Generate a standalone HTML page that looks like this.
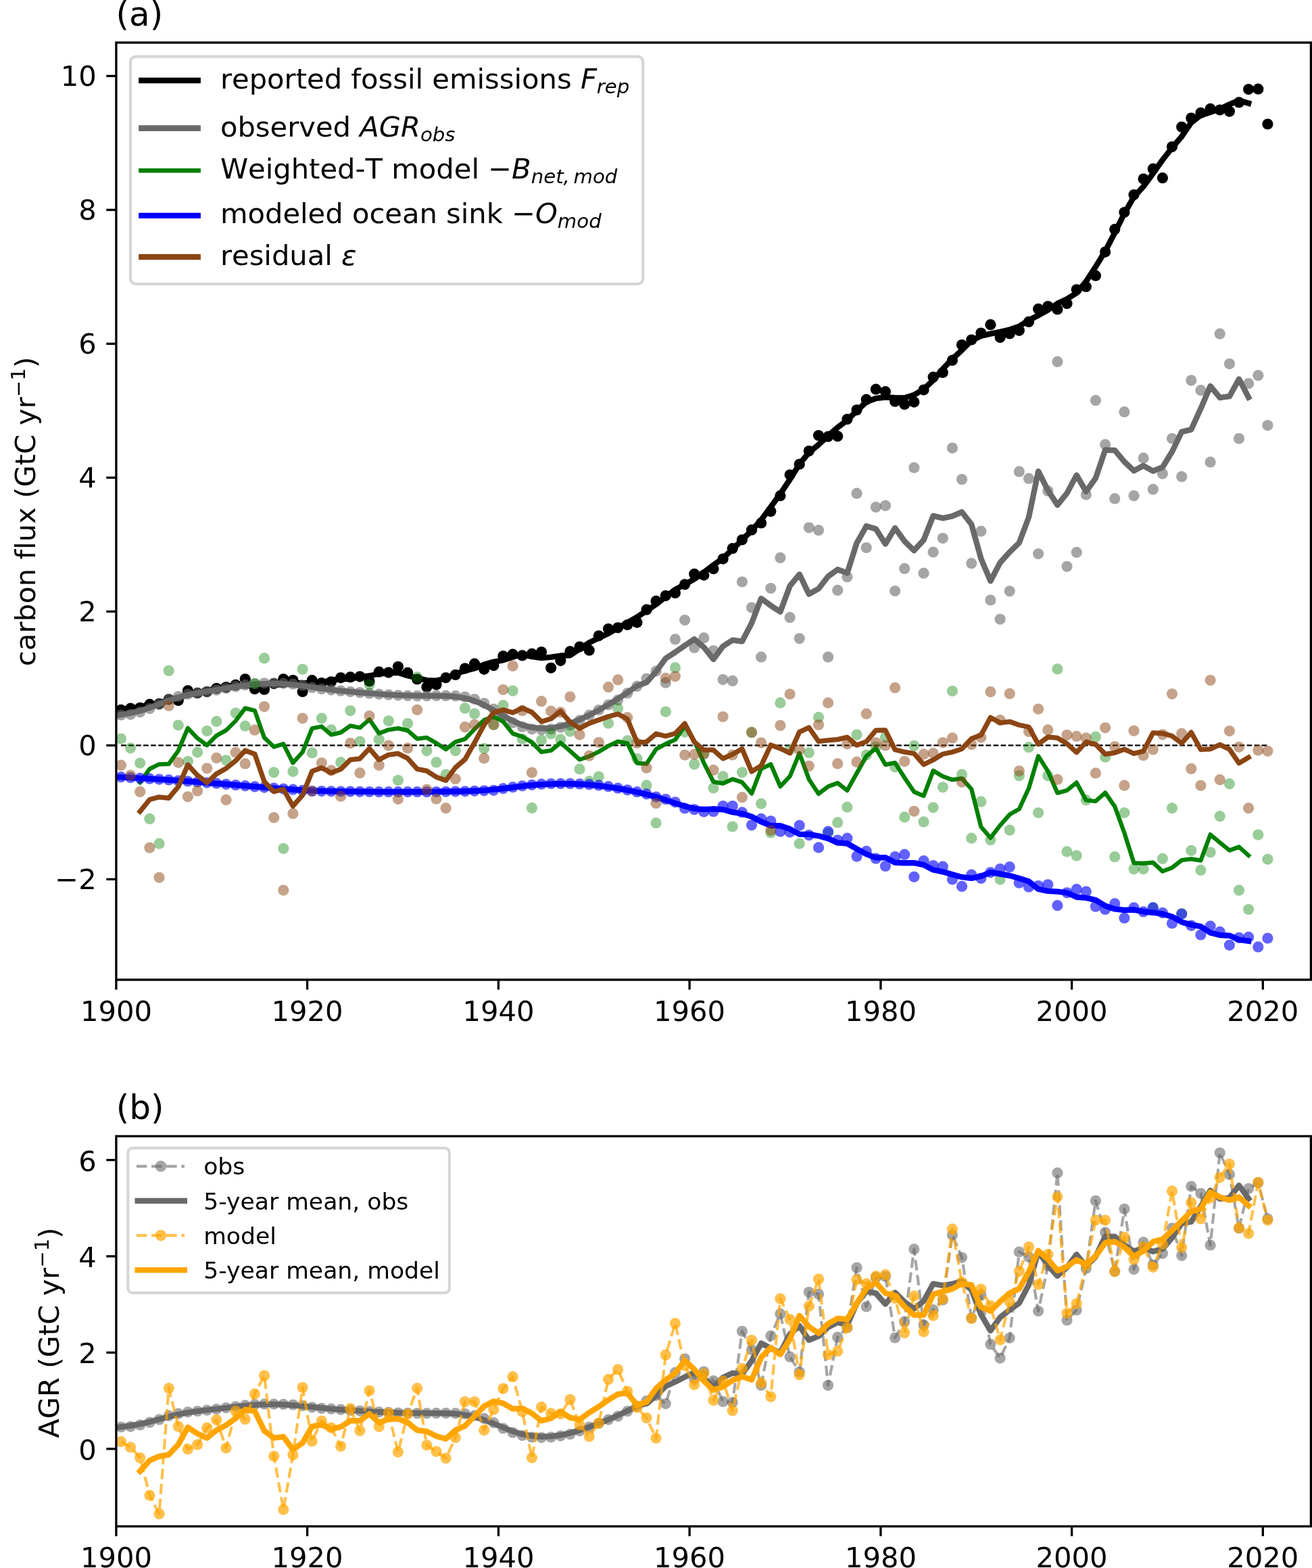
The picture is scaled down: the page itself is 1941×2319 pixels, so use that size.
<!DOCTYPE html>
<html><head><meta charset="utf-8"><title>Carbon flux figure</title>
<style>
html,body{margin:0;padding:0;background:#fff;}
svg{display:block;}
text{font-family:'DejaVu Sans','Liberation Sans',sans-serif;fill:#000;font-variant-ligatures:none;font-feature-settings:'liga' 0,'clig' 0;}
.tk{font-size:41.67px;}
.lg{font-size:41.67px;font-kerning:none;}
.lb{font-size:34.6px;}
.ti{font-size:50px;}
.it{font-style:italic;}
.nk{font-kerning:none;}
</style></head><body>
<svg width="1941" height="2319" viewBox="0 0 1941 2319">
<rect width="1941" height="2319" fill="#fff"/>
<defs>
<clipPath id="ca"><rect x="171.9" y="63.0" width="1767.5" height="1386.0"/></clipPath>
<clipPath id="cb"><rect x="171.9" y="1680.4" width="1767.5" height="577.0"/></clipPath>
</defs>

<g clip-path="url(#ca)">
<line x1="179.0" y1="1102.4" x2="1875.4" y2="1102.4" stroke="#000" stroke-width="2.1" stroke-dasharray="7.7,3.33"/>
<g fill="#000" fill-opacity="1"><circle cx="179.0" cy="1049.9" r="8.1"/><circle cx="193.1" cy="1047.7" r="8.1"/><circle cx="207.2" cy="1046.8" r="8.1"/><circle cx="221.4" cy="1041.7" r="8.1"/><circle cx="235.5" cy="1040.8" r="8.1"/><circle cx="249.7" cy="1034.3" r="8.1"/><circle cx="263.8" cy="1036.0" r="8.1"/><circle cx="277.9" cy="1021.4" r="8.1"/><circle cx="292.1" cy="1024.9" r="8.1"/><circle cx="306.2" cy="1023.1" r="8.1"/><circle cx="320.3" cy="1018.0" r="8.1"/><circle cx="334.5" cy="1016.3" r="8.1"/><circle cx="348.6" cy="1012.9" r="8.1"/><circle cx="362.7" cy="1004.3" r="8.1"/><circle cx="376.9" cy="1018.9" r="8.1"/><circle cx="391.0" cy="1019.7" r="8.1"/><circle cx="405.2" cy="1011.1" r="8.1"/><circle cx="419.3" cy="1004.3" r="8.1"/><circle cx="433.4" cy="1006.0" r="8.1"/><circle cx="447.6" cy="1022.9" r="8.1"/><circle cx="461.7" cy="1006.2" r="8.1"/><circle cx="475.8" cy="1010.0" r="8.1"/><circle cx="490.0" cy="1008.3" r="8.1"/><circle cx="504.1" cy="1002.3" r="8.1"/><circle cx="518.3" cy="1001.4" r="8.1"/><circle cx="532.4" cy="1000.6" r="8.1"/><circle cx="546.5" cy="1007.4" r="8.1"/><circle cx="560.7" cy="993.7" r="8.1"/><circle cx="574.8" cy="994.6" r="8.1"/><circle cx="588.9" cy="986.0" r="8.1"/><circle cx="603.1" cy="994.9" r="8.1"/><circle cx="617.2" cy="1004.5" r="8.1"/><circle cx="631.4" cy="1016.0" r="8.1"/><circle cx="645.5" cy="1012.6" r="8.1"/><circle cx="659.6" cy="1002.3" r="8.1"/><circle cx="673.8" cy="998.0" r="8.1"/><circle cx="687.9" cy="988.6" r="8.1"/><circle cx="702.0" cy="981.7" r="8.1"/><circle cx="716.2" cy="989.8" r="8.1"/><circle cx="730.3" cy="984.3" r="8.1"/><circle cx="744.4" cy="970.3" r="8.1"/><circle cx="758.6" cy="967.7" r="8.1"/><circle cx="772.7" cy="969.4" r="8.1"/><circle cx="786.9" cy="966.9" r="8.1"/><circle cx="801.0" cy="964.3" r="8.1"/><circle cx="815.1" cy="987.8" r="8.1"/><circle cx="829.3" cy="977.1" r="8.1"/><circle cx="843.4" cy="963.4" r="8.1"/><circle cx="857.5" cy="956.6" r="8.1"/><circle cx="871.7" cy="961.7" r="8.1"/><circle cx="885.8" cy="940.3" r="8.1"/><circle cx="900.0" cy="930.0" r="8.1"/><circle cx="914.1" cy="928.3" r="8.1"/><circle cx="928.2" cy="924.0" r="8.1"/><circle cx="942.4" cy="920.6" r="8.1"/><circle cx="956.5" cy="901.7" r="8.1"/><circle cx="970.6" cy="888.9" r="8.1"/><circle cx="984.8" cy="881.1" r="8.1"/><circle cx="998.9" cy="876.9" r="8.1"/><circle cx="1013.1" cy="864.3" r="8.1"/><circle cx="1027.2" cy="848.9" r="8.1"/><circle cx="1041.3" cy="850.6" r="8.1"/><circle cx="1055.5" cy="841.2" r="8.1"/><circle cx="1069.6" cy="826.6" r="8.1"/><circle cx="1083.7" cy="811.2" r="8.1"/><circle cx="1097.9" cy="798.3" r="8.1"/><circle cx="1112.0" cy="783.7" r="8.1"/><circle cx="1126.1" cy="773.4" r="8.1"/><circle cx="1140.3" cy="756.3" r="8.1"/><circle cx="1154.4" cy="733.2" r="8.1"/><circle cx="1168.6" cy="702.3" r="8.1"/><circle cx="1182.7" cy="686.5" r="8.1"/><circle cx="1196.8" cy="667.1" r="8.1"/><circle cx="1211.0" cy="644.0" r="8.1"/><circle cx="1225.1" cy="645.7" r="8.1"/><circle cx="1239.2" cy="645.2" r="8.1"/><circle cx="1253.4" cy="620.0" r="8.1"/><circle cx="1267.5" cy="606.3" r="8.1"/><circle cx="1281.7" cy="590.9" r="8.1"/><circle cx="1295.8" cy="575.7" r="8.1"/><circle cx="1309.9" cy="579.2" r="8.1"/><circle cx="1324.1" cy="593.7" r="8.1"/><circle cx="1338.2" cy="598.0" r="8.1"/><circle cx="1352.3" cy="594.6" r="8.1"/><circle cx="1366.5" cy="576.6" r="8.1"/><circle cx="1380.6" cy="557.7" r="8.1"/><circle cx="1394.8" cy="550.9" r="8.1"/><circle cx="1408.9" cy="532.9" r="8.1"/><circle cx="1423.0" cy="510.1" r="8.1"/><circle cx="1437.2" cy="502.5" r="8.1"/><circle cx="1451.3" cy="492.6" r="8.1"/><circle cx="1465.4" cy="480.2" r="8.1"/><circle cx="1479.6" cy="499.1" r="8.1"/><circle cx="1493.7" cy="493.4" r="8.1"/><circle cx="1507.8" cy="488.8" r="8.1"/><circle cx="1522.0" cy="475.9" r="8.1"/><circle cx="1536.1" cy="456.9" r="8.1"/><circle cx="1550.3" cy="453.1" r="8.1"/><circle cx="1564.4" cy="457.4" r="8.1"/><circle cx="1578.5" cy="448.9" r="8.1"/><circle cx="1592.7" cy="428.3" r="8.1"/><circle cx="1606.8" cy="424.0" r="8.1"/><circle cx="1620.9" cy="407.7" r="8.1"/><circle cx="1635.1" cy="372.6" r="8.1"/><circle cx="1649.2" cy="339.2" r="8.1"/><circle cx="1663.4" cy="314.0" r="8.1"/><circle cx="1677.5" cy="288.1" r="8.1"/><circle cx="1691.6" cy="264.6" r="8.1"/><circle cx="1705.8" cy="249.7" r="8.1"/><circle cx="1719.9" cy="263.2" r="8.1"/><circle cx="1734.0" cy="217.1" r="8.1"/><circle cx="1748.2" cy="187.8" r="8.1"/><circle cx="1762.3" cy="174.6" r="8.1"/><circle cx="1776.4" cy="166.9" r="8.1"/><circle cx="1790.6" cy="160.9" r="8.1"/><circle cx="1804.7" cy="162.6" r="8.1"/><circle cx="1818.9" cy="164.8" r="8.1"/><circle cx="1833.0" cy="151.4" r="8.1"/><circle cx="1847.1" cy="132.1" r="8.1"/><circle cx="1861.3" cy="131.7" r="8.1"/><circle cx="1875.4" cy="183.5" r="8.1"/></g>
<polyline points="164.8,1050.9 179.0,1049.2 193.1,1047.4 207.2,1045.4 221.4,1042.2 235.5,1039.9 249.7,1034.9 263.8,1031.5 277.9,1027.9 292.1,1024.7 306.2,1020.7 320.3,1019.0 334.5,1014.9 348.6,1014.1 362.7,1014.4 376.9,1013.4 391.0,1011.7 405.2,1012.0 419.3,1012.8 433.4,1010.1 447.6,1009.9 461.7,1010.7 475.8,1009.9 490.0,1005.6 504.1,1004.5 518.3,1004.0 532.4,1001.1 546.5,999.5 560.7,996.5 574.8,995.3 588.9,994.7 603.1,999.2 617.2,1002.8 631.4,1006.1 645.5,1006.7 659.6,1003.5 673.8,996.6 687.9,992.1 702.0,988.5 716.2,982.9 730.3,978.8 744.4,976.3 758.6,971.7 772.7,967.7 786.9,971.2 801.0,973.1 815.1,971.9 829.3,969.8 843.4,969.3 857.5,959.8 871.7,950.4 885.8,943.4 900.0,936.9 914.1,928.6 928.2,920.9 942.4,912.7 956.5,903.3 970.6,893.8 984.8,882.6 998.9,872.0 1013.1,864.4 1027.2,856.4 1041.3,846.3 1055.5,835.7 1069.6,825.6 1083.7,812.2 1097.9,798.6 1112.0,784.6 1126.1,769.0 1140.3,749.8 1154.4,730.3 1168.6,709.1 1182.7,686.6 1196.8,669.1 1211.0,657.7 1225.1,644.4 1239.2,632.2 1253.4,621.6 1267.5,607.6 1281.7,594.4 1295.8,589.2 1309.9,587.5 1324.1,588.2 1338.2,588.4 1352.3,584.1 1366.5,575.6 1380.6,562.5 1394.8,545.6 1408.9,530.8 1423.0,517.8 1437.2,503.7 1451.3,496.9 1465.4,493.6 1479.6,490.8 1493.7,487.5 1507.8,482.8 1522.0,473.6 1536.1,466.4 1550.3,458.5 1564.4,448.9 1578.5,442.3 1592.7,433.3 1606.8,416.3 1620.9,394.4 1635.1,371.5 1649.2,344.3 1663.4,315.7 1677.5,291.1 1691.6,275.9 1705.8,256.5 1719.9,236.5 1734.0,218.5 1748.2,201.9 1762.3,181.4 1776.4,170.5 1790.6,165.9 1804.7,161.3 1818.9,154.3 1833.0,148.5 1847.1,152.7" fill="none" stroke="#000" stroke-width="8.4" stroke-opacity="1" stroke-linejoin="round" stroke-linecap="square"/>
<g fill="#696969" fill-opacity="0.6"><circle cx="179.0" cy="1057.4" r="8.1"/><circle cx="193.1" cy="1056.6" r="8.1"/><circle cx="207.2" cy="1053.1" r="8.1"/><circle cx="221.4" cy="1048.0" r="8.1"/><circle cx="235.5" cy="1042.0" r="8.1"/><circle cx="249.7" cy="1034.3" r="8.1"/><circle cx="263.8" cy="1030.0" r="8.1"/><circle cx="277.9" cy="1026.6" r="8.1"/><circle cx="292.1" cy="1024.9" r="8.1"/><circle cx="306.2" cy="1022.8" r="8.1"/><circle cx="320.3" cy="1020.6" r="8.1"/><circle cx="334.5" cy="1018.0" r="8.1"/><circle cx="348.6" cy="1015.4" r="8.1"/><circle cx="362.7" cy="1012.9" r="8.1"/><circle cx="376.9" cy="1011.1" r="8.1"/><circle cx="391.0" cy="1010.3" r="8.1"/><circle cx="405.2" cy="1010.3" r="8.1"/><circle cx="419.3" cy="1010.8" r="8.1"/><circle cx="433.4" cy="1011.7" r="8.1"/><circle cx="447.6" cy="1013.7" r="8.1"/><circle cx="461.7" cy="1016.9" r="8.1"/><circle cx="475.8" cy="1018.9" r="8.1"/><circle cx="490.0" cy="1020.3" r="8.1"/><circle cx="504.1" cy="1021.7" r="8.1"/><circle cx="518.3" cy="1023.0" r="8.1"/><circle cx="532.4" cy="1024.2" r="8.1"/><circle cx="546.5" cy="1025.4" r="8.1"/><circle cx="560.7" cy="1026.6" r="8.1"/><circle cx="574.8" cy="1027.5" r="8.1"/><circle cx="588.9" cy="1028.3" r="8.1"/><circle cx="603.1" cy="1028.9" r="8.1"/><circle cx="617.2" cy="1029.2" r="8.1"/><circle cx="631.4" cy="1029.2" r="8.1"/><circle cx="645.5" cy="1028.9" r="8.1"/><circle cx="659.6" cy="1028.9" r="8.1"/><circle cx="673.8" cy="1029.2" r="8.1"/><circle cx="687.9" cy="1030.6" r="8.1"/><circle cx="702.0" cy="1034.0" r="8.1"/><circle cx="716.2" cy="1040.0" r="8.1"/><circle cx="730.3" cy="1048.6" r="8.1"/><circle cx="744.4" cy="1060.3" r="8.1"/><circle cx="758.6" cy="1068.9" r="8.1"/><circle cx="772.7" cy="1074.9" r="8.1"/><circle cx="786.9" cy="1078.3" r="8.1"/><circle cx="801.0" cy="1079.2" r="8.1"/><circle cx="815.1" cy="1078.3" r="8.1"/><circle cx="829.3" cy="1075.7" r="8.1"/><circle cx="843.4" cy="1072.3" r="8.1"/><circle cx="857.5" cy="1065.4" r="8.1"/><circle cx="871.7" cy="1057.7" r="8.1"/><circle cx="885.8" cy="1050.0" r="8.1"/><circle cx="900.0" cy="1042.3" r="8.1"/><circle cx="914.1" cy="1035.4" r="8.1"/><circle cx="928.2" cy="1025.2" r="8.1"/><circle cx="942.4" cy="1014.9" r="8.1"/><circle cx="956.5" cy="1003.7" r="8.1"/><circle cx="970.6" cy="992.6" r="8.1"/><circle cx="984.8" cy="1009.7" r="8.1"/><circle cx="998.9" cy="945.4" r="8.1"/><circle cx="1013.1" cy="917.1" r="8.1"/><circle cx="1027.2" cy="958.0" r="8.1"/><circle cx="1041.3" cy="943.4" r="8.1"/><circle cx="1055.5" cy="962.3" r="8.1"/><circle cx="1069.6" cy="1005.1" r="8.1"/><circle cx="1083.7" cy="1006.9" r="8.1"/><circle cx="1097.9" cy="860.5" r="8.1"/><circle cx="1112.0" cy="898.6" r="8.1"/><circle cx="1126.1" cy="971.7" r="8.1"/><circle cx="1140.3" cy="870.0" r="8.1"/><circle cx="1154.4" cy="824.9" r="8.1"/><circle cx="1168.6" cy="913.2" r="8.1"/><circle cx="1182.7" cy="944.3" r="8.1"/><circle cx="1196.8" cy="780.3" r="8.1"/><circle cx="1211.0" cy="784.2" r="8.1"/><circle cx="1225.1" cy="971.7" r="8.1"/><circle cx="1239.2" cy="872.9" r="8.1"/><circle cx="1253.4" cy="853.2" r="8.1"/><circle cx="1267.5" cy="729.7" r="8.1"/><circle cx="1281.7" cy="810.0" r="8.1"/><circle cx="1295.8" cy="750.0" r="8.1"/><circle cx="1309.9" cy="747.8" r="8.1"/><circle cx="1324.1" cy="874.0" r="8.1"/><circle cx="1338.2" cy="840.9" r="8.1"/><circle cx="1352.3" cy="691.7" r="8.1"/><circle cx="1366.5" cy="847.7" r="8.1"/><circle cx="1380.6" cy="816.5" r="8.1"/><circle cx="1394.8" cy="796.0" r="8.1"/><circle cx="1408.9" cy="662.6" r="8.1"/><circle cx="1423.0" cy="708.9" r="8.1"/><circle cx="1437.2" cy="833.2" r="8.1"/><circle cx="1451.3" cy="785.7" r="8.1"/><circle cx="1465.4" cy="887.5" r="8.1"/><circle cx="1479.6" cy="915.8" r="8.1"/><circle cx="1493.7" cy="874.3" r="8.1"/><circle cx="1507.8" cy="697.4" r="8.1"/><circle cx="1522.0" cy="707.7" r="8.1"/><circle cx="1536.1" cy="819.1" r="8.1"/><circle cx="1550.3" cy="726.0" r="8.1"/><circle cx="1564.4" cy="534.9" r="8.1"/><circle cx="1578.5" cy="837.8" r="8.1"/><circle cx="1592.7" cy="816.9" r="8.1"/><circle cx="1606.8" cy="731.4" r="8.1"/><circle cx="1620.9" cy="592.2" r="8.1"/><circle cx="1635.1" cy="657.4" r="8.1"/><circle cx="1649.2" cy="737.4" r="8.1"/><circle cx="1663.4" cy="609.2" r="8.1"/><circle cx="1677.5" cy="733.2" r="8.1"/><circle cx="1691.6" cy="677.4" r="8.1"/><circle cx="1705.8" cy="723.7" r="8.1"/><circle cx="1719.9" cy="700.6" r="8.1"/><circle cx="1734.0" cy="648.5" r="8.1"/><circle cx="1748.2" cy="704.9" r="8.1"/><circle cx="1762.3" cy="562.6" r="8.1"/><circle cx="1776.4" cy="577.2" r="8.1"/><circle cx="1790.6" cy="683.4" r="8.1"/><circle cx="1804.7" cy="493.7" r="8.1"/><circle cx="1818.9" cy="538.1" r="8.1"/><circle cx="1833.0" cy="648.6" r="8.1"/><circle cx="1847.1" cy="567.2" r="8.1"/><circle cx="1861.3" cy="555.2" r="8.1"/><circle cx="1875.4" cy="629.1" r="8.1"/></g>
<polyline points="164.8,1059.6 179.0,1057.1 193.1,1054.6 207.2,1051.4 221.4,1046.8 235.5,1041.5 249.7,1036.2 263.8,1031.5 277.9,1027.7 292.1,1025.0 306.2,1022.6 320.3,1020.3 334.5,1017.9 348.6,1015.6 362.7,1013.5 376.9,1012.0 391.0,1011.1 405.2,1010.8 419.3,1011.4 433.4,1012.7 447.6,1014.4 461.7,1016.3 475.8,1018.3 490.0,1020.2 504.1,1021.6 518.3,1022.9 532.4,1024.2 546.5,1025.4 560.7,1026.4 574.8,1027.4 588.9,1028.1 603.1,1028.6 617.2,1028.9 631.4,1029.0 645.5,1029.1 659.6,1029.3 673.8,1030.3 687.9,1032.5 702.0,1036.5 716.2,1042.7 730.3,1050.4 744.4,1058.5 758.6,1066.2 772.7,1072.3 786.9,1075.9 801.0,1077.3 815.1,1076.8 829.3,1074.2 843.4,1069.9 857.5,1064.2 871.7,1057.6 885.8,1050.2 900.0,1042.1 914.1,1033.6 928.2,1024.3 942.4,1014.4 956.5,1009.2 970.6,993.3 984.8,973.7 998.9,964.6 1013.1,954.7 1027.2,945.3 1041.3,957.2 1055.5,975.1 1069.6,955.7 1083.7,946.7 1097.9,948.6 1112.0,921.5 1126.1,885.1 1140.3,895.7 1154.4,904.8 1168.6,866.5 1182.7,849.4 1196.8,878.7 1211.0,870.7 1225.1,852.5 1239.2,842.3 1253.4,847.5 1267.5,803.1 1281.7,778.1 1295.8,782.3 1309.9,804.5 1324.1,780.9 1338.2,800.4 1352.3,814.2 1366.5,798.6 1380.6,762.9 1394.8,766.3 1408.9,763.4 1423.0,757.2 1437.2,775.5 1451.3,826.2 1465.4,859.3 1479.6,832.1 1493.7,816.5 1507.8,802.8 1522.0,764.9 1536.1,697.0 1550.3,725.1 1564.4,746.9 1578.5,729.4 1592.7,702.7 1606.8,727.1 1620.9,707.1 1635.1,665.5 1649.2,665.9 1663.4,682.9 1677.5,696.2 1691.6,688.8 1705.8,696.7 1719.9,691.0 1734.0,668.0 1748.2,638.7 1762.3,635.3 1776.4,604.3 1790.6,571.0 1804.7,588.2 1818.9,586.2 1833.0,560.6 1847.1,587.6" fill="none" stroke="#696969" stroke-width="8.4" stroke-opacity="1" stroke-linejoin="round" stroke-linecap="square"/>
<g fill="#008000" fill-opacity="0.4"><circle cx="179.0" cy="1092.6" r="8.1"/><circle cx="193.1" cy="1106.3" r="8.1"/><circle cx="207.2" cy="1128.6" r="8.1"/><circle cx="221.4" cy="1210.9" r="8.1"/><circle cx="235.5" cy="1247.7" r="8.1"/><circle cx="249.7" cy="991.9" r="8.1"/><circle cx="263.8" cy="1072.5" r="8.1"/><circle cx="277.9" cy="1126.0" r="8.1"/><circle cx="292.1" cy="1112.6" r="8.1"/><circle cx="306.2" cy="1081.1" r="8.1"/><circle cx="320.3" cy="1066.9" r="8.1"/><circle cx="334.5" cy="1124.3" r="8.1"/><circle cx="348.6" cy="1054.5" r="8.1"/><circle cx="362.7" cy="1073.7" r="8.1"/><circle cx="376.9" cy="1011.1" r="8.1"/><circle cx="391.0" cy="973.4" r="8.1"/><circle cx="405.2" cy="1142.3" r="8.1"/><circle cx="419.3" cy="1254.9" r="8.1"/><circle cx="433.4" cy="1140.9" r="8.1"/><circle cx="447.6" cy="989.8" r="8.1"/><circle cx="461.7" cy="1113.4" r="8.1"/><circle cx="475.8" cy="1062.3" r="8.1"/><circle cx="490.0" cy="1079.4" r="8.1"/><circle cx="504.1" cy="1127.4" r="8.1"/><circle cx="518.3" cy="1051.1" r="8.1"/><circle cx="532.4" cy="1096.6" r="8.1"/><circle cx="546.5" cy="1012.6" r="8.1"/><circle cx="560.7" cy="1093.7" r="8.1"/><circle cx="574.8" cy="1066.2" r="8.1"/><circle cx="588.9" cy="1154.0" r="8.1"/><circle cx="603.1" cy="1070.0" r="8.1"/><circle cx="617.2" cy="1001.4" r="8.1"/><circle cx="631.4" cy="1110.3" r="8.1"/><circle cx="645.5" cy="1127.4" r="8.1"/><circle cx="659.6" cy="1145.4" r="8.1"/><circle cx="673.8" cy="1110.3" r="8.1"/><circle cx="687.9" cy="1047.4" r="8.1"/><circle cx="702.0" cy="1055.4" r="8.1"/><circle cx="716.2" cy="1106.9" r="8.1"/><circle cx="730.3" cy="1071.7" r="8.1"/><circle cx="744.4" cy="1043.2" r="8.1"/><circle cx="758.6" cy="1021.7" r="8.1"/><circle cx="772.7" cy="1092.9" r="8.1"/><circle cx="786.9" cy="1194.9" r="8.1"/><circle cx="801.0" cy="1094.6" r="8.1"/><circle cx="815.1" cy="1085.2" r="8.1"/><circle cx="829.3" cy="1093.7" r="8.1"/><circle cx="843.4" cy="1081.7" r="8.1"/><circle cx="857.5" cy="1137.4" r="8.1"/><circle cx="871.7" cy="1155.4" r="8.1"/><circle cx="885.8" cy="1148.6" r="8.1"/><circle cx="900.0" cy="1069.7" r="8.1"/><circle cx="914.1" cy="1047.4" r="8.1"/><circle cx="928.2" cy="1095.4" r="8.1"/><circle cx="942.4" cy="1122.0" r="8.1"/><circle cx="956.5" cy="1161.4" r="8.1"/><circle cx="970.6" cy="1217.2" r="8.1"/><circle cx="984.8" cy="1052.6" r="8.1"/><circle cx="998.9" cy="987.4" r="8.1"/><circle cx="1013.1" cy="1082.6" r="8.1"/><circle cx="1027.2" cy="1130.3" r="8.1"/><circle cx="1041.3" cy="1114.9" r="8.1"/><circle cx="1055.5" cy="1165.4" r="8.1"/><circle cx="1069.6" cy="1148.3" r="8.1"/><circle cx="1083.7" cy="1222.5" r="8.1"/><circle cx="1097.9" cy="1142.3" r="8.1"/><circle cx="1112.0" cy="1083.2" r="8.1"/><circle cx="1126.1" cy="1188.6" r="8.1"/><circle cx="1140.3" cy="1231.4" r="8.1"/><circle cx="1154.4" cy="1039.4" r="8.1"/><circle cx="1168.6" cy="1108.9" r="8.1"/><circle cx="1182.7" cy="1247.7" r="8.1"/><circle cx="1196.8" cy="1113.2" r="8.1"/><circle cx="1211.0" cy="1060.9" r="8.1"/><circle cx="1225.1" cy="1232.3" r="8.1"/><circle cx="1239.2" cy="1216.4" r="8.1"/><circle cx="1253.4" cy="1193.7" r="8.1"/><circle cx="1267.5" cy="1086.6" r="8.1"/><circle cx="1281.7" cy="1116.6" r="8.1"/><circle cx="1295.8" cy="1104.6" r="8.1"/><circle cx="1309.9" cy="1090.6" r="8.1"/><circle cx="1324.1" cy="1134.3" r="8.1"/><circle cx="1338.2" cy="1208.4" r="8.1"/><circle cx="1352.3" cy="1102.9" r="8.1"/><circle cx="1366.5" cy="1215.4" r="8.1"/><circle cx="1380.6" cy="1194.3" r="8.1"/><circle cx="1394.8" cy="1164.3" r="8.1"/><circle cx="1408.9" cy="1022.0" r="8.1"/><circle cx="1423.0" cy="1145.4" r="8.1"/><circle cx="1437.2" cy="1239.7" r="8.1"/><circle cx="1451.3" cy="1185.7" r="8.1"/><circle cx="1465.4" cy="1242.3" r="8.1"/><circle cx="1479.6" cy="1300.6" r="8.1"/><circle cx="1493.7" cy="1227.7" r="8.1"/><circle cx="1507.8" cy="1147.2" r="8.1"/><circle cx="1522.0" cy="1105.2" r="8.1"/><circle cx="1536.1" cy="1202.0" r="8.1"/><circle cx="1550.3" cy="1147.2" r="8.1"/><circle cx="1564.4" cy="989.4" r="8.1"/><circle cx="1578.5" cy="1259.4" r="8.1"/><circle cx="1592.7" cy="1265.4" r="8.1"/><circle cx="1606.8" cy="1183.2" r="8.1"/><circle cx="1620.9" cy="1089.7" r="8.1"/><circle cx="1635.1" cy="1119.7" r="8.1"/><circle cx="1649.2" cy="1267.2" r="8.1"/><circle cx="1663.4" cy="1202.0" r="8.1"/><circle cx="1677.5" cy="1285.2" r="8.1"/><circle cx="1691.6" cy="1285.2" r="8.1"/><circle cx="1705.8" cy="1342.4" r="8.1"/><circle cx="1719.9" cy="1269.9" r="8.1"/><circle cx="1734.0" cy="1195.2" r="8.1"/><circle cx="1748.2" cy="1351.0" r="8.1"/><circle cx="1762.3" cy="1257.9" r="8.1"/><circle cx="1776.4" cy="1286.9" r="8.1"/><circle cx="1790.6" cy="1260.5" r="8.1"/><circle cx="1804.7" cy="1207.2" r="8.1"/><circle cx="1818.9" cy="1159.2" r="8.1"/><circle cx="1833.0" cy="1316.7" r="8.1"/><circle cx="1847.1" cy="1345.0" r="8.1"/><circle cx="1861.3" cy="1234.6" r="8.1"/><circle cx="1875.4" cy="1270.8" r="8.1"/></g>
<polyline points="207.2,1157.2 221.4,1137.1 235.5,1130.3 249.7,1129.8 263.8,1110.2 277.9,1076.8 292.1,1091.8 306.2,1102.2 320.3,1087.9 334.5,1080.1 348.6,1066.1 362.7,1047.4 376.9,1051.0 391.0,1091.1 405.2,1104.5 419.3,1100.3 433.4,1128.3 447.6,1112.3 461.7,1077.2 475.8,1074.5 490.0,1086.7 504.1,1083.4 518.3,1073.4 532.4,1076.3 546.5,1064.0 560.7,1084.6 574.8,1079.3 588.9,1077.1 603.1,1080.4 617.2,1092.6 631.4,1090.9 645.5,1099.0 659.6,1108.2 673.8,1097.2 687.9,1093.1 702.0,1078.3 716.2,1064.9 730.3,1059.8 744.4,1067.3 758.6,1084.9 772.7,1089.4 786.9,1097.8 801.0,1112.2 815.1,1110.0 829.3,1098.5 843.4,1110.7 857.5,1123.4 871.7,1118.6 885.8,1111.7 900.0,1103.3 914.1,1096.6 928.2,1099.2 942.4,1128.7 956.5,1129.7 970.6,1108.1 984.8,1100.2 998.9,1094.0 1013.1,1073.6 1027.2,1096.1 1041.3,1128.3 1055.5,1156.3 1069.6,1158.7 1083.7,1152.3 1097.9,1157.0 1112.0,1173.6 1126.1,1137.0 1140.3,1130.3 1154.4,1163.2 1168.6,1148.1 1182.7,1114.0 1196.8,1152.6 1211.0,1174.1 1225.1,1163.3 1239.2,1158.0 1253.4,1169.1 1267.5,1143.6 1281.7,1118.4 1295.8,1106.5 1309.9,1130.9 1324.1,1128.1 1338.2,1150.3 1352.3,1171.1 1366.5,1177.1 1380.6,1139.8 1394.8,1148.3 1408.9,1153.2 1423.0,1151.4 1437.2,1167.0 1451.3,1222.8 1465.4,1239.2 1479.6,1220.7 1493.7,1204.6 1507.8,1196.5 1522.0,1165.8 1536.1,1118.2 1550.3,1140.6 1564.4,1172.7 1578.5,1168.9 1592.7,1157.4 1606.8,1183.5 1620.9,1185.0 1635.1,1172.4 1649.2,1192.8 1663.4,1231.8 1677.5,1276.4 1691.6,1276.9 1705.8,1275.6 1719.9,1288.7 1734.0,1283.3 1748.2,1272.2 1762.3,1270.3 1776.4,1272.7 1790.6,1234.3 1804.7,1246.1 1818.9,1257.7 1833.0,1252.5 1847.1,1265.2" fill="none" stroke="#008000" stroke-width="6.25" stroke-opacity="1" stroke-linejoin="round" stroke-linecap="square"/>
<g fill="#0000ff" fill-opacity="0.62"><circle cx="179.0" cy="1149.2" r="8.1"/><circle cx="193.1" cy="1150.0" r="8.1"/><circle cx="207.2" cy="1150.9" r="8.1"/><circle cx="221.4" cy="1151.7" r="8.1"/><circle cx="235.5" cy="1152.6" r="8.1"/><circle cx="249.7" cy="1153.4" r="8.1"/><circle cx="263.8" cy="1154.5" r="8.1"/><circle cx="277.9" cy="1155.5" r="8.1"/><circle cx="292.1" cy="1156.5" r="8.1"/><circle cx="306.2" cy="1157.6" r="8.1"/><circle cx="320.3" cy="1158.6" r="8.1"/><circle cx="334.5" cy="1159.8" r="8.1"/><circle cx="348.6" cy="1161.0" r="8.1"/><circle cx="362.7" cy="1162.2" r="8.1"/><circle cx="376.9" cy="1163.4" r="8.1"/><circle cx="391.0" cy="1164.6" r="8.1"/><circle cx="405.2" cy="1165.6" r="8.1"/><circle cx="419.3" cy="1166.6" r="8.1"/><circle cx="433.4" cy="1167.7" r="8.1"/><circle cx="447.6" cy="1168.9" r="8.1"/><circle cx="461.7" cy="1170.0" r="8.1"/><circle cx="475.8" cy="1170.1" r="8.1"/><circle cx="490.0" cy="1170.3" r="8.1"/><circle cx="504.1" cy="1170.5" r="8.1"/><circle cx="518.3" cy="1170.6" r="8.1"/><circle cx="532.4" cy="1170.8" r="8.1"/><circle cx="546.5" cy="1171.0" r="8.1"/><circle cx="560.7" cy="1171.2" r="8.1"/><circle cx="574.8" cy="1171.2" r="8.1"/><circle cx="588.9" cy="1171.2" r="8.1"/><circle cx="603.1" cy="1171.2" r="8.1"/><circle cx="617.2" cy="1171.2" r="8.1"/><circle cx="631.4" cy="1171.2" r="8.1"/><circle cx="645.5" cy="1171.0" r="8.1"/><circle cx="659.6" cy="1170.8" r="8.1"/><circle cx="673.8" cy="1170.6" r="8.1"/><circle cx="687.9" cy="1170.3" r="8.1"/><circle cx="702.0" cy="1169.8" r="8.1"/><circle cx="716.2" cy="1169.3" r="8.1"/><circle cx="730.3" cy="1168.8" r="8.1"/><circle cx="744.4" cy="1166.2" r="8.1"/><circle cx="758.6" cy="1164.2" r="8.1"/><circle cx="772.7" cy="1162.3" r="8.1"/><circle cx="786.9" cy="1160.8" r="8.1"/><circle cx="801.0" cy="1159.7" r="8.1"/><circle cx="815.1" cy="1159.0" r="8.1"/><circle cx="829.3" cy="1158.9" r="8.1"/><circle cx="843.4" cy="1158.9" r="8.1"/><circle cx="857.5" cy="1159.4" r="8.1"/><circle cx="871.7" cy="1160.2" r="8.1"/><circle cx="885.8" cy="1161.4" r="8.1"/><circle cx="900.0" cy="1163.2" r="8.1"/><circle cx="914.1" cy="1165.7" r="8.1"/><circle cx="928.2" cy="1168.3" r="8.1"/><circle cx="942.4" cy="1171.2" r="8.1"/><circle cx="956.5" cy="1174.3" r="8.1"/><circle cx="970.6" cy="1178.6" r="8.1"/><circle cx="984.8" cy="1182.0" r="8.1"/><circle cx="998.9" cy="1186.3" r="8.1"/><circle cx="1013.1" cy="1195.4" r="8.1"/><circle cx="1027.2" cy="1197.2" r="8.1"/><circle cx="1041.3" cy="1200.6" r="8.1"/><circle cx="1055.5" cy="1200.2" r="8.1"/><circle cx="1069.6" cy="1192.0" r="8.1"/><circle cx="1083.7" cy="1192.0" r="8.1"/><circle cx="1097.9" cy="1201.4" r="8.1"/><circle cx="1112.0" cy="1220.3" r="8.1"/><circle cx="1126.1" cy="1210.9" r="8.1"/><circle cx="1140.3" cy="1214.3" r="8.1"/><circle cx="1154.4" cy="1229.7" r="8.1"/><circle cx="1168.6" cy="1230.6" r="8.1"/><circle cx="1182.7" cy="1220.8" r="8.1"/><circle cx="1196.8" cy="1235.2" r="8.1"/><circle cx="1211.0" cy="1253.4" r="8.1"/><circle cx="1225.1" cy="1229.7" r="8.1"/><circle cx="1239.2" cy="1242.6" r="8.1"/><circle cx="1253.4" cy="1239.7" r="8.1"/><circle cx="1267.5" cy="1266.6" r="8.1"/><circle cx="1281.7" cy="1258.9" r="8.1"/><circle cx="1295.8" cy="1269.7" r="8.1"/><circle cx="1309.9" cy="1280.9" r="8.1"/><circle cx="1324.1" cy="1267.2" r="8.1"/><circle cx="1338.2" cy="1263.7" r="8.1"/><circle cx="1352.3" cy="1296.8" r="8.1"/><circle cx="1366.5" cy="1273.2" r="8.1"/><circle cx="1380.6" cy="1280.0" r="8.1"/><circle cx="1394.8" cy="1281.7" r="8.1"/><circle cx="1408.9" cy="1300.6" r="8.1"/><circle cx="1423.0" cy="1310.9" r="8.1"/><circle cx="1437.2" cy="1293.7" r="8.1"/><circle cx="1451.3" cy="1298.9" r="8.1"/><circle cx="1465.4" cy="1290.3" r="8.1"/><circle cx="1479.6" cy="1285.2" r="8.1"/><circle cx="1493.7" cy="1282.2" r="8.1"/><circle cx="1507.8" cy="1305.7" r="8.1"/><circle cx="1522.0" cy="1311.7" r="8.1"/><circle cx="1536.1" cy="1310.0" r="8.1"/><circle cx="1550.3" cy="1308.3" r="8.1"/><circle cx="1564.4" cy="1339.2" r="8.1"/><circle cx="1578.5" cy="1320.3" r="8.1"/><circle cx="1592.7" cy="1315.2" r="8.1"/><circle cx="1606.8" cy="1318.5" r="8.1"/><circle cx="1620.9" cy="1340.7" r="8.1"/><circle cx="1635.1" cy="1344.9" r="8.1"/><circle cx="1649.2" cy="1336.4" r="8.1"/><circle cx="1663.4" cy="1357.7" r="8.1"/><circle cx="1677.5" cy="1342.4" r="8.1"/><circle cx="1691.6" cy="1348.4" r="8.1"/><circle cx="1705.8" cy="1342.4" r="8.1"/><circle cx="1719.9" cy="1350.1" r="8.1"/><circle cx="1734.0" cy="1365.4" r="8.1"/><circle cx="1748.2" cy="1351.8" r="8.1"/><circle cx="1762.3" cy="1368.8" r="8.1"/><circle cx="1776.4" cy="1382.5" r="8.1"/><circle cx="1790.6" cy="1369.7" r="8.1"/><circle cx="1804.7" cy="1378.2" r="8.1"/><circle cx="1818.9" cy="1397.8" r="8.1"/><circle cx="1833.0" cy="1386.8" r="8.1"/><circle cx="1847.1" cy="1385.9" r="8.1"/><circle cx="1861.3" cy="1400.4" r="8.1"/><circle cx="1875.4" cy="1387.6" r="8.1"/></g>
<polyline points="164.8,1148.7 179.0,1149.4 193.1,1150.2 207.2,1150.9 221.4,1151.7 235.5,1152.6 249.7,1153.5 263.8,1154.5 277.9,1155.5 292.1,1156.5 306.2,1157.6 320.3,1158.7 334.5,1159.8 348.6,1161.0 362.7,1162.2 376.9,1163.3 391.0,1164.5 405.2,1165.6 419.3,1166.7 433.4,1167.7 447.6,1168.7 461.7,1169.4 475.8,1169.9 490.0,1170.3 504.1,1170.5 518.3,1170.6 532.4,1170.8 546.5,1170.9 560.7,1171.1 574.8,1171.1 588.9,1171.2 603.1,1171.2 617.2,1171.1 631.4,1171.1 645.5,1170.9 659.6,1170.8 673.8,1170.5 687.9,1170.2 702.0,1169.7 716.2,1168.9 730.3,1167.6 744.4,1166.2 758.6,1164.5 772.7,1162.6 786.9,1161.2 801.0,1160.1 815.1,1159.5 829.3,1159.2 843.4,1159.3 857.5,1159.8 871.7,1160.6 885.8,1162.0 900.0,1163.8 914.1,1166.0 928.2,1168.5 942.4,1171.6 956.5,1174.9 970.6,1178.5 984.8,1183.3 998.9,1187.9 1013.1,1192.3 1027.2,1195.9 1041.3,1197.1 1055.5,1196.4 1069.6,1197.3 1083.7,1201.2 1097.9,1203.3 1112.0,1207.8 1126.1,1215.3 1140.3,1221.2 1154.4,1221.3 1168.6,1226.1 1182.7,1233.9 1196.8,1233.9 1211.0,1236.3 1225.1,1240.1 1239.2,1246.4 1253.4,1247.5 1267.5,1255.5 1281.7,1263.1 1295.8,1268.6 1309.9,1268.1 1324.1,1275.7 1338.2,1276.3 1352.3,1276.2 1366.5,1279.1 1380.6,1286.5 1394.8,1289.3 1408.9,1293.4 1423.0,1297.2 1437.2,1298.9 1451.3,1295.8 1465.4,1290.1 1479.6,1292.5 1493.7,1295.0 1507.8,1299.0 1522.0,1303.6 1536.1,1315.0 1550.3,1317.9 1564.4,1318.6 1578.5,1320.3 1592.7,1326.8 1606.8,1327.9 1620.9,1331.1 1635.1,1339.7 1649.2,1344.4 1663.4,1346.0 1677.5,1345.5 1691.6,1348.2 1705.8,1349.7 1719.9,1351.6 1734.0,1355.7 1748.2,1363.7 1762.3,1367.6 1776.4,1370.2 1790.6,1379.4 1804.7,1383.0 1818.9,1383.7 1833.0,1389.8 1847.1,1391.7" fill="none" stroke="#0000ff" stroke-width="8.4" stroke-opacity="1" stroke-linejoin="round" stroke-linecap="square"/>
<g fill="#8b4513" fill-opacity="0.5"><circle cx="179.0" cy="1131.7" r="8.1"/><circle cx="193.1" cy="1146.6" r="8.1"/><circle cx="207.2" cy="1170.9" r="8.1"/><circle cx="221.4" cy="1253.7" r="8.1"/><circle cx="235.5" cy="1297.8" r="8.1"/><circle cx="249.7" cy="1043.7" r="8.1"/><circle cx="263.8" cy="1127.7" r="8.1"/><circle cx="277.9" cy="1178.3" r="8.1"/><circle cx="292.1" cy="1169.7" r="8.1"/><circle cx="306.2" cy="1136.3" r="8.1"/><circle cx="320.3" cy="1120.9" r="8.1"/><circle cx="334.5" cy="1182.9" r="8.1"/><circle cx="348.6" cy="1112.8" r="8.1"/><circle cx="362.7" cy="1129.4" r="8.1"/><circle cx="376.9" cy="1079.7" r="8.1"/><circle cx="391.0" cy="1045.1" r="8.1"/><circle cx="405.2" cy="1209.2" r="8.1"/><circle cx="419.3" cy="1316.6" r="8.1"/><circle cx="433.4" cy="1203.2" r="8.1"/><circle cx="447.6" cy="1062.3" r="8.1"/><circle cx="461.7" cy="1170.0" r="8.1"/><circle cx="475.8" cy="1128.3" r="8.1"/><circle cx="490.0" cy="1139.4" r="8.1"/><circle cx="504.1" cy="1177.7" r="8.1"/><circle cx="518.3" cy="1099.2" r="8.1"/><circle cx="532.4" cy="1143.2" r="8.1"/><circle cx="546.5" cy="1058.9" r="8.1"/><circle cx="560.7" cy="1131.7" r="8.1"/><circle cx="574.8" cy="1102.6" r="8.1"/><circle cx="588.9" cy="1181.8" r="8.1"/><circle cx="603.1" cy="1106.4" r="8.1"/><circle cx="617.2" cy="1049.8" r="8.1"/><circle cx="631.4" cy="1167.7" r="8.1"/><circle cx="645.5" cy="1181.4" r="8.1"/><circle cx="659.6" cy="1195.2" r="8.1"/><circle cx="673.8" cy="1152.0" r="8.1"/><circle cx="687.9" cy="1075.2" r="8.1"/><circle cx="702.0" cy="1071.7" r="8.1"/><circle cx="716.2" cy="1121.4" r="8.1"/><circle cx="730.3" cy="1071.7" r="8.1"/><circle cx="744.4" cy="1020.0" r="8.1"/><circle cx="758.6" cy="984.9" r="8.1"/><circle cx="772.7" cy="1050.9" r="8.1"/><circle cx="786.9" cy="1142.6" r="8.1"/><circle cx="801.0" cy="1037.2" r="8.1"/><circle cx="815.1" cy="1051.7" r="8.1"/><circle cx="829.3" cy="1053.4" r="8.1"/><circle cx="843.4" cy="1030.6" r="8.1"/><circle cx="857.5" cy="1086.4" r="8.1"/><circle cx="871.7" cy="1117.7" r="8.1"/><circle cx="885.8" cy="1098.0" r="8.1"/><circle cx="900.0" cy="1016.2" r="8.1"/><circle cx="914.1" cy="1005.4" r="8.1"/><circle cx="928.2" cy="1061.2" r="8.1"/><circle cx="942.4" cy="1098.9" r="8.1"/><circle cx="956.5" cy="1135.7" r="8.1"/><circle cx="970.6" cy="1188.0" r="8.1"/><circle cx="984.8" cy="1002.9" r="8.1"/><circle cx="998.9" cy="1000.3" r="8.1"/><circle cx="1013.1" cy="1116.6" r="8.1"/><circle cx="1027.2" cy="1115.7" r="8.1"/><circle cx="1041.3" cy="1114.9" r="8.1"/><circle cx="1055.5" cy="1138.9" r="8.1"/><circle cx="1069.6" cy="1060.0" r="8.1"/><circle cx="1083.7" cy="1116.6" r="8.1"/><circle cx="1097.9" cy="1179.2" r="8.1"/><circle cx="1112.0" cy="1083.2" r="8.1"/><circle cx="1126.1" cy="1098.6" r="8.1"/><circle cx="1140.3" cy="1228.0" r="8.1"/><circle cx="1154.4" cy="1072.9" r="8.1"/><circle cx="1168.6" cy="1026.6" r="8.1"/><circle cx="1182.7" cy="1108.9" r="8.1"/><circle cx="1196.8" cy="1132.9" r="8.1"/><circle cx="1211.0" cy="1072.0" r="8.1"/><circle cx="1225.1" cy="1039.4" r="8.1"/><circle cx="1239.2" cy="1129.4" r="8.1"/><circle cx="1253.4" cy="1100.3" r="8.1"/><circle cx="1267.5" cy="1126.9" r="8.1"/><circle cx="1281.7" cy="1055.7" r="8.1"/><circle cx="1295.8" cy="1098.3" r="8.1"/><circle cx="1309.9" cy="1102.6" r="8.1"/><circle cx="1324.1" cy="1017.2" r="8.1"/><circle cx="1338.2" cy="1126.1" r="8.1"/><circle cx="1352.3" cy="1199.8" r="8.1"/><circle cx="1366.5" cy="1115.4" r="8.1"/><circle cx="1380.6" cy="1114.1" r="8.1"/><circle cx="1394.8" cy="1098.3" r="8.1"/><circle cx="1408.9" cy="1091.4" r="8.1"/><circle cx="1423.0" cy="1156.6" r="8.1"/><circle cx="1437.2" cy="1100.9" r="8.1"/><circle cx="1451.3" cy="1090.6" r="8.1"/><circle cx="1465.4" cy="1023.2" r="8.1"/><circle cx="1479.6" cy="1064.9" r="8.1"/><circle cx="1493.7" cy="1025.9" r="8.1"/><circle cx="1507.8" cy="1140.3" r="8.1"/><circle cx="1522.0" cy="1082.0" r="8.1"/><circle cx="1536.1" cy="1048.6" r="8.1"/><circle cx="1550.3" cy="1079.4" r="8.1"/><circle cx="1564.4" cy="1152.8" r="8.1"/><circle cx="1578.5" cy="1087.1" r="8.1"/><circle cx="1592.7" cy="1088.9" r="8.1"/><circle cx="1606.8" cy="1091.4" r="8.1"/><circle cx="1620.9" cy="1143.4" r="8.1"/><circle cx="1635.1" cy="1076.3" r="8.1"/><circle cx="1649.2" cy="1104.3" r="8.1"/><circle cx="1663.4" cy="1161.7" r="8.1"/><circle cx="1677.5" cy="1080.8" r="8.1"/><circle cx="1691.6" cy="1117.2" r="8.1"/><circle cx="1705.8" cy="1108.6" r="8.1"/><circle cx="1719.9" cy="1086.3" r="8.1"/><circle cx="1734.0" cy="1026.3" r="8.1"/><circle cx="1748.2" cy="1084.9" r="8.1"/><circle cx="1762.3" cy="1136.9" r="8.1"/><circle cx="1776.4" cy="1161.7" r="8.1"/><circle cx="1790.6" cy="1006.1" r="8.1"/><circle cx="1804.7" cy="1153.2" r="8.1"/><circle cx="1818.9" cy="1081.1" r="8.1"/><circle cx="1833.0" cy="1104.8" r="8.1"/><circle cx="1847.1" cy="1195.2" r="8.1"/><circle cx="1861.3" cy="1109.4" r="8.1"/><circle cx="1875.4" cy="1110.8" r="8.1"/></g>
<polyline points="207.2,1200.1 221.4,1182.5 235.5,1178.8 249.7,1180.3 263.8,1163.5 277.9,1131.2 292.1,1146.6 306.2,1157.6 320.3,1144.5 334.5,1136.5 348.6,1125.2 362.7,1110.0 376.9,1115.2 391.0,1156.0 405.2,1170.8 419.3,1167.3 433.4,1192.2 447.6,1176.1 461.7,1140.6 475.8,1135.5 490.0,1142.9 504.1,1137.6 518.3,1123.7 532.4,1122.1 546.5,1107.1 560.7,1123.6 574.8,1116.3 588.9,1114.4 603.1,1121.6 617.2,1137.4 631.4,1140.1 645.5,1149.2 659.6,1154.3 673.8,1135.1 687.9,1123.1 702.0,1098.4 716.2,1072.0 730.3,1054.0 744.4,1049.8 758.6,1054.0 772.7,1047.1 786.9,1053.4 801.0,1067.2 815.1,1063.1 829.3,1051.9 843.4,1068.0 857.5,1077.2 871.7,1069.8 885.8,1064.8 900.0,1059.7 914.1,1055.9 928.2,1063.5 942.4,1097.8 956.5,1097.3 970.6,1085.2 984.8,1088.7 998.9,1084.7 1013.1,1070.1 1027.2,1097.3 1041.3,1109.2 1055.5,1109.2 1069.6,1121.9 1083.7,1115.6 1097.9,1107.5 1112.0,1141.1 1126.1,1132.4 1140.3,1101.8 1154.4,1107.0 1168.6,1113.8 1182.7,1082.6 1196.8,1076.0 1211.0,1096.5 1225.1,1094.8 1239.2,1093.6 1253.4,1090.4 1267.5,1102.1 1281.7,1096.8 1295.8,1080.1 1309.9,1080.0 1324.1,1108.8 1338.2,1112.2 1352.3,1114.5 1366.5,1130.7 1380.6,1123.8 1394.8,1115.2 1408.9,1112.2 1423.0,1107.6 1437.2,1092.5 1451.3,1087.2 1465.4,1061.1 1479.6,1069.0 1493.7,1067.3 1507.8,1072.3 1522.0,1075.3 1536.1,1100.6 1550.3,1090.0 1564.4,1091.4 1578.5,1099.9 1592.7,1112.7 1606.8,1097.4 1620.9,1100.9 1635.1,1115.4 1649.2,1113.3 1663.4,1108.1 1677.5,1114.5 1691.6,1110.9 1705.8,1083.8 1719.9,1084.6 1734.0,1088.6 1748.2,1099.2 1762.3,1083.2 1776.4,1108.5 1790.6,1107.8 1804.7,1101.4 1818.9,1108.1 1833.0,1128.7 1847.1,1120.3" fill="none" stroke="#8b4513" stroke-width="7.3" stroke-opacity="1" stroke-linejoin="round" stroke-linecap="square"/>
</g>
<rect x="171.9" y="63.0" width="1767.5" height="1386.0" fill="none" stroke="#000" stroke-width="3.33"/>
<line x1="171.9" y1="1449.0" x2="171.9" y2="1463.6" stroke="#000" stroke-width="3.33"/>
<text class="tk" x="171.9" y="1509.6" text-anchor="middle">1900</text>
<line x1="454.6" y1="1449.0" x2="454.6" y2="1463.6" stroke="#000" stroke-width="3.33"/>
<text class="tk" x="454.6" y="1509.6" text-anchor="middle">1920</text>
<line x1="737.4" y1="1449.0" x2="737.4" y2="1463.6" stroke="#000" stroke-width="3.33"/>
<text class="tk" x="737.4" y="1509.6" text-anchor="middle">1940</text>
<line x1="1020.1" y1="1449.0" x2="1020.1" y2="1463.6" stroke="#000" stroke-width="3.33"/>
<text class="tk" x="1020.1" y="1509.6" text-anchor="middle">1960</text>
<line x1="1302.9" y1="1449.0" x2="1302.9" y2="1463.6" stroke="#000" stroke-width="3.33"/>
<text class="tk" x="1302.9" y="1509.6" text-anchor="middle">1980</text>
<line x1="1585.6" y1="1449.0" x2="1585.6" y2="1463.6" stroke="#000" stroke-width="3.33"/>
<text class="tk" x="1585.6" y="1509.6" text-anchor="middle">2000</text>
<line x1="1868.3" y1="1449.0" x2="1868.3" y2="1463.6" stroke="#000" stroke-width="3.33"/>
<text class="tk" x="1868.3" y="1509.6" text-anchor="middle">2020</text>
<line x1="157.3" y1="1300.4" x2="171.9" y2="1300.4" stroke="#000" stroke-width="3.33"/>
<text class="tk" x="142.7" y="1315.4" text-anchor="end">−2</text>
<line x1="157.3" y1="1102.4" x2="171.9" y2="1102.4" stroke="#000" stroke-width="3.33"/>
<text class="tk" x="142.7" y="1117.4" text-anchor="end">0</text>
<line x1="157.3" y1="904.4" x2="171.9" y2="904.4" stroke="#000" stroke-width="3.33"/>
<text class="tk" x="142.7" y="919.4" text-anchor="end">2</text>
<line x1="157.3" y1="706.4" x2="171.9" y2="706.4" stroke="#000" stroke-width="3.33"/>
<text class="tk" x="142.7" y="721.4" text-anchor="end">4</text>
<line x1="157.3" y1="508.4" x2="171.9" y2="508.4" stroke="#000" stroke-width="3.33"/>
<text class="tk" x="142.7" y="523.4" text-anchor="end">6</text>
<line x1="157.3" y1="310.4" x2="171.9" y2="310.4" stroke="#000" stroke-width="3.33"/>
<text class="tk" x="142.7" y="325.4" text-anchor="end">8</text>
<line x1="157.3" y1="112.4" x2="171.9" y2="112.4" stroke="#000" stroke-width="3.33"/>
<text class="tk" x="142.7" y="127.4" text-anchor="end">10</text>
<text class="tk nk" letter-spacing="0.07" transform="translate(52,756.4) rotate(-90)" text-anchor="middle">carbon flux (GtC yr<tspan dy="-15" font-size="29.2px">−1</tspan><tspan dy="15">)</tspan></text>
<text class="ti" x="171.5" y="38" >(a)</text>
<rect x="193" y="83.7" width="758.3" height="336.3" rx="8" ry="8" fill="#fff" fill-opacity="0.8" stroke="#ccc" stroke-opacity="0.8" stroke-width="4.17"/>
<line x1="205.1" y1="119.0" x2="296.9" y2="119.0" stroke="#000" stroke-width="8.6"/>
<text class="lg" x="325.9" y="131.3">reported fossil emissions <tspan class="it">F</tspan><tspan class="it" font-size="29.2px" dy="7">rep</tspan></text>
<line x1="205.1" y1="189.6" x2="296.9" y2="189.6" stroke="#696969" stroke-width="8.6"/>
<text class="lg" x="325.9" y="202.3">observed <tspan class="it">AGR</tspan><tspan class="it" font-size="29.2px" dy="7">obs</tspan></text>
<line x1="205.1" y1="252.3" x2="296.9" y2="252.3" stroke="#008000" stroke-width="6.6"/>
<text class="lg" x="325.9" y="264.3">Weighted-T model −<tspan class="it">B</tspan><tspan class="it" font-size="29.2px" dy="7">net, </tspan><tspan class="it" font-size="29.2px" dx="-3.7">mod</tspan></text>
<line x1="205.1" y1="318.9" x2="296.9" y2="318.9" stroke="#0000ff" stroke-width="8.4"/>
<text class="lg" x="325.9" y="330.3">modeled ocean sink −<tspan class="it">O</tspan><tspan class="it" font-size="29.2px" dy="7">mod</tspan></text>
<line x1="205.1" y1="380.0" x2="296.9" y2="380.0" stroke="#8b4513" stroke-width="8.4"/>
<text class="lg" x="325.9" y="392.3">residual <tspan class="it">ε</tspan></text>
<g clip-path="url(#cb)">
<polyline points="179.0,2110.5 193.1,2109.8 207.2,2107.4 221.4,2103.7 235.5,2099.4 249.7,2093.8 263.8,2090.7 277.9,2088.3 292.1,2087.0 306.2,2085.6 320.3,2084.0 334.5,2082.1 348.6,2080.3 362.7,2078.4 376.9,2077.2 391.0,2076.6 405.2,2076.6 419.3,2076.9 433.4,2077.5 447.6,2079.0 461.7,2081.3 475.8,2082.8 490.0,2083.7 504.1,2084.7 518.3,2085.7 532.4,2086.6 546.5,2087.4 560.7,2088.3 574.8,2088.9 588.9,2089.5 603.1,2089.9 617.2,2090.2 631.4,2090.2 645.5,2089.9 659.6,2089.9 673.8,2090.2 687.9,2091.1 702.0,2093.6 716.2,2097.9 730.3,2104.1 744.4,2112.5 758.6,2118.7 772.7,2123.0 786.9,2125.5 801.0,2126.1 815.1,2125.5 829.3,2123.6 843.4,2121.2 857.5,2116.2 871.7,2110.7 885.8,2105.1 900.0,2099.6 914.1,2094.6 928.2,2087.2 942.4,2079.8 956.5,2071.8 970.6,2063.8 984.8,2076.1 998.9,2029.9 1013.1,2009.6 1027.2,2038.9 1041.3,2028.5 1055.5,2042.0 1069.6,2072.9 1083.7,2074.1 1097.9,1968.9 1112.0,1996.2 1126.1,2048.8 1140.3,1975.6 1154.4,1943.2 1168.6,2006.7 1182.7,2029.1 1196.8,1911.1 1211.0,1914.0 1225.1,2048.8 1239.2,1977.7 1253.4,1963.5 1267.5,1874.8 1281.7,1932.5 1295.8,1889.4 1309.9,1887.8 1324.1,1978.5 1338.2,1954.7 1352.3,1847.4 1366.5,1959.6 1380.6,1937.2 1394.8,1922.4 1408.9,1826.5 1423.0,1859.8 1437.2,1949.2 1451.3,1915.0 1465.4,1988.2 1479.6,2008.6 1493.7,1978.8 1507.8,1851.5 1522.0,1858.9 1536.1,1939.0 1550.3,1872.1 1564.4,1734.7 1578.5,1952.5 1592.7,1937.4 1606.8,1876.0 1620.9,1775.9 1635.1,1822.7 1649.2,1880.3 1663.4,1788.1 1677.5,1877.2 1691.6,1837.2 1705.8,1870.5 1719.9,1853.8 1734.0,1816.3 1748.2,1856.9 1762.3,1754.6 1776.4,1765.0 1790.6,1841.5 1804.7,1705.0 1818.9,1736.9 1833.0,1816.5 1847.1,1757.9 1861.3,1749.3 1875.4,1802.4" fill="none" stroke="#696969" stroke-width="4.17" stroke-opacity="0.6" stroke-linejoin="round" stroke-linecap="butt" stroke-dasharray="15.4,6.7"/>
<g fill="#696969" fill-opacity="0.6"><circle cx="179.0" cy="2110.5" r="8.1"/><circle cx="193.1" cy="2109.8" r="8.1"/><circle cx="207.2" cy="2107.4" r="8.1"/><circle cx="221.4" cy="2103.7" r="8.1"/><circle cx="235.5" cy="2099.4" r="8.1"/><circle cx="249.7" cy="2093.8" r="8.1"/><circle cx="263.8" cy="2090.7" r="8.1"/><circle cx="277.9" cy="2088.3" r="8.1"/><circle cx="292.1" cy="2087.0" r="8.1"/><circle cx="306.2" cy="2085.6" r="8.1"/><circle cx="320.3" cy="2084.0" r="8.1"/><circle cx="334.5" cy="2082.1" r="8.1"/><circle cx="348.6" cy="2080.3" r="8.1"/><circle cx="362.7" cy="2078.4" r="8.1"/><circle cx="376.9" cy="2077.2" r="8.1"/><circle cx="391.0" cy="2076.6" r="8.1"/><circle cx="405.2" cy="2076.6" r="8.1"/><circle cx="419.3" cy="2076.9" r="8.1"/><circle cx="433.4" cy="2077.5" r="8.1"/><circle cx="447.6" cy="2079.0" r="8.1"/><circle cx="461.7" cy="2081.3" r="8.1"/><circle cx="475.8" cy="2082.8" r="8.1"/><circle cx="490.0" cy="2083.7" r="8.1"/><circle cx="504.1" cy="2084.7" r="8.1"/><circle cx="518.3" cy="2085.7" r="8.1"/><circle cx="532.4" cy="2086.6" r="8.1"/><circle cx="546.5" cy="2087.4" r="8.1"/><circle cx="560.7" cy="2088.3" r="8.1"/><circle cx="574.8" cy="2088.9" r="8.1"/><circle cx="588.9" cy="2089.5" r="8.1"/><circle cx="603.1" cy="2089.9" r="8.1"/><circle cx="617.2" cy="2090.2" r="8.1"/><circle cx="631.4" cy="2090.2" r="8.1"/><circle cx="645.5" cy="2089.9" r="8.1"/><circle cx="659.6" cy="2089.9" r="8.1"/><circle cx="673.8" cy="2090.2" r="8.1"/><circle cx="687.9" cy="2091.1" r="8.1"/><circle cx="702.0" cy="2093.6" r="8.1"/><circle cx="716.2" cy="2097.9" r="8.1"/><circle cx="730.3" cy="2104.1" r="8.1"/><circle cx="744.4" cy="2112.5" r="8.1"/><circle cx="758.6" cy="2118.7" r="8.1"/><circle cx="772.7" cy="2123.0" r="8.1"/><circle cx="786.9" cy="2125.5" r="8.1"/><circle cx="801.0" cy="2126.1" r="8.1"/><circle cx="815.1" cy="2125.5" r="8.1"/><circle cx="829.3" cy="2123.6" r="8.1"/><circle cx="843.4" cy="2121.2" r="8.1"/><circle cx="857.5" cy="2116.2" r="8.1"/><circle cx="871.7" cy="2110.7" r="8.1"/><circle cx="885.8" cy="2105.1" r="8.1"/><circle cx="900.0" cy="2099.6" r="8.1"/><circle cx="914.1" cy="2094.6" r="8.1"/><circle cx="928.2" cy="2087.2" r="8.1"/><circle cx="942.4" cy="2079.8" r="8.1"/><circle cx="956.5" cy="2071.8" r="8.1"/><circle cx="970.6" cy="2063.8" r="8.1"/><circle cx="984.8" cy="2076.1" r="8.1"/><circle cx="998.9" cy="2029.9" r="8.1"/><circle cx="1013.1" cy="2009.6" r="8.1"/><circle cx="1027.2" cy="2038.9" r="8.1"/><circle cx="1041.3" cy="2028.5" r="8.1"/><circle cx="1055.5" cy="2042.0" r="8.1"/><circle cx="1069.6" cy="2072.9" r="8.1"/><circle cx="1083.7" cy="2074.1" r="8.1"/><circle cx="1097.9" cy="1968.9" r="8.1"/><circle cx="1112.0" cy="1996.2" r="8.1"/><circle cx="1126.1" cy="2048.8" r="8.1"/><circle cx="1140.3" cy="1975.6" r="8.1"/><circle cx="1154.4" cy="1943.2" r="8.1"/><circle cx="1168.6" cy="2006.7" r="8.1"/><circle cx="1182.7" cy="2029.1" r="8.1"/><circle cx="1196.8" cy="1911.1" r="8.1"/><circle cx="1211.0" cy="1914.0" r="8.1"/><circle cx="1225.1" cy="2048.8" r="8.1"/><circle cx="1239.2" cy="1977.7" r="8.1"/><circle cx="1253.4" cy="1963.5" r="8.1"/><circle cx="1267.5" cy="1874.8" r="8.1"/><circle cx="1281.7" cy="1932.5" r="8.1"/><circle cx="1295.8" cy="1889.4" r="8.1"/><circle cx="1309.9" cy="1887.8" r="8.1"/><circle cx="1324.1" cy="1978.5" r="8.1"/><circle cx="1338.2" cy="1954.7" r="8.1"/><circle cx="1352.3" cy="1847.4" r="8.1"/><circle cx="1366.5" cy="1959.6" r="8.1"/><circle cx="1380.6" cy="1937.2" r="8.1"/><circle cx="1394.8" cy="1922.4" r="8.1"/><circle cx="1408.9" cy="1826.5" r="8.1"/><circle cx="1423.0" cy="1859.8" r="8.1"/><circle cx="1437.2" cy="1949.2" r="8.1"/><circle cx="1451.3" cy="1915.0" r="8.1"/><circle cx="1465.4" cy="1988.2" r="8.1"/><circle cx="1479.6" cy="2008.6" r="8.1"/><circle cx="1493.7" cy="1978.8" r="8.1"/><circle cx="1507.8" cy="1851.5" r="8.1"/><circle cx="1522.0" cy="1858.9" r="8.1"/><circle cx="1536.1" cy="1939.0" r="8.1"/><circle cx="1550.3" cy="1872.1" r="8.1"/><circle cx="1564.4" cy="1734.7" r="8.1"/><circle cx="1578.5" cy="1952.5" r="8.1"/><circle cx="1592.7" cy="1937.4" r="8.1"/><circle cx="1606.8" cy="1876.0" r="8.1"/><circle cx="1620.9" cy="1775.9" r="8.1"/><circle cx="1635.1" cy="1822.7" r="8.1"/><circle cx="1649.2" cy="1880.3" r="8.1"/><circle cx="1663.4" cy="1788.1" r="8.1"/><circle cx="1677.5" cy="1877.2" r="8.1"/><circle cx="1691.6" cy="1837.2" r="8.1"/><circle cx="1705.8" cy="1870.5" r="8.1"/><circle cx="1719.9" cy="1853.8" r="8.1"/><circle cx="1734.0" cy="1816.3" r="8.1"/><circle cx="1748.2" cy="1856.9" r="8.1"/><circle cx="1762.3" cy="1754.6" r="8.1"/><circle cx="1776.4" cy="1765.0" r="8.1"/><circle cx="1790.6" cy="1841.5" r="8.1"/><circle cx="1804.7" cy="1705.0" r="8.1"/><circle cx="1818.9" cy="1736.9" r="8.1"/><circle cx="1833.0" cy="1816.5" r="8.1"/><circle cx="1847.1" cy="1757.9" r="8.1"/><circle cx="1861.3" cy="1749.3" r="8.1"/><circle cx="1875.4" cy="1802.4" r="8.1"/></g>
<polyline points="164.8,2112.1 179.0,2110.3 193.1,2108.5 207.2,2106.1 221.4,2102.8 235.5,2099.0 249.7,2095.2 263.8,2091.8 277.9,2089.1 292.1,2087.1 306.2,2085.4 320.3,2083.8 334.5,2082.1 348.6,2080.4 362.7,2078.9 376.9,2077.8 391.0,2077.1 405.2,2076.9 419.3,2077.3 433.4,2078.3 447.6,2079.5 461.7,2080.9 475.8,2082.3 490.0,2083.6 504.1,2084.7 518.3,2085.6 532.4,2086.6 546.5,2087.4 560.7,2088.2 574.8,2088.8 588.9,2089.4 603.1,2089.7 617.2,2089.9 631.4,2090.0 645.5,2090.1 659.6,2090.3 673.8,2090.9 687.9,2092.6 702.0,2095.4 716.2,2099.9 730.3,2105.4 744.4,2111.2 758.6,2116.8 772.7,2121.2 786.9,2123.7 801.0,2124.7 815.1,2124.4 829.3,2122.5 843.4,2119.4 857.5,2115.4 871.7,2110.5 885.8,2105.2 900.0,2099.5 914.1,2093.3 928.2,2086.6 942.4,2079.5 956.5,2075.8 970.6,2064.3 984.8,2050.3 998.9,2043.7 1013.1,2036.6 1027.2,2029.8 1041.3,2038.4 1055.5,2051.3 1069.6,2037.3 1083.7,2030.8 1097.9,2032.2 1112.0,2012.7 1126.1,1986.5 1140.3,1994.1 1154.4,2000.7 1168.6,1973.2 1182.7,1960.8 1196.8,1981.9 1211.0,1976.2 1225.1,1963.0 1239.2,1955.8 1253.4,1959.5 1267.5,1927.6 1281.7,1909.6 1295.8,1912.6 1309.9,1928.6 1324.1,1911.6 1338.2,1925.6 1352.3,1935.5 1366.5,1924.3 1380.6,1898.6 1394.8,1901.1 1408.9,1899.0 1423.0,1894.6 1437.2,1907.7 1451.3,1944.2 1465.4,1968.0 1479.6,1948.4 1493.7,1937.2 1507.8,1927.4 1522.0,1900.1 1536.1,1851.2 1550.3,1871.4 1564.4,1887.2 1578.5,1874.5 1592.7,1855.3 1606.8,1872.9 1620.9,1858.5 1635.1,1828.6 1649.2,1828.9 1663.4,1841.1 1677.5,1850.7 1691.6,1845.4 1705.8,1851.0 1719.9,1846.9 1734.0,1830.4 1748.2,1809.3 1762.3,1806.9 1776.4,1784.6 1790.6,1760.6 1804.7,1773.0 1818.9,1771.6 1833.0,1753.1 1847.1,1772.6" fill="none" stroke="#696969" stroke-width="8.4" stroke-opacity="1" stroke-linejoin="round" stroke-linecap="square"/>
<polyline points="179.0,2132.2 193.1,2140.4 207.2,2156.1 221.4,2211.6 235.5,2238.9 249.7,2053.2 263.8,2109.7 277.9,2143.3 292.1,2136.5 306.2,2111.7 320.3,2099.8 334.5,2141.6 348.6,2087.0 362.7,2098.9 376.9,2061.4 391.0,2034.4 405.2,2153.5 419.3,2232.4 433.4,2151.8 447.6,2052.0 461.7,2131.4 475.8,2101.5 490.0,2111.7 504.1,2139.0 518.3,2083.2 532.4,2116.0 546.5,2056.6 560.7,2110.0 574.8,2089.6 588.9,2147.6 603.1,2091.3 617.2,2053.2 631.4,2137.3 645.5,2146.7 659.6,2156.6 673.8,2126.2 687.9,2073.0 702.0,2073.0 716.2,2115.2 730.3,2084.4 744.4,2053.6 758.6,2036.2 772.7,2087.7 786.9,2156.0 801.0,2080.9 815.1,2090.3 829.3,2091.1 843.4,2069.8 857.5,2107.3 871.7,2124.4 885.8,2104.8 900.0,2039.9 914.1,2025.4 928.2,2057.8 942.4,2081.7 956.5,2097.1 970.6,2127.0 984.8,2003.8 998.9,1957.2 1013.1,2019.5 1027.2,2047.8 1041.3,2031.6 1055.5,2070.9 1069.6,2042.7 1083.7,2086.2 1097.9,2023.9 1112.0,1982.1 1126.1,2045.3 1140.3,2065.7 1154.4,1920.7 1168.6,1951.4 1182.7,2033.3 1196.8,1931.8 1211.0,1891.7 1225.1,2003.4 1239.2,1998.3 1253.4,1963.3 1267.5,1892.5 1281.7,1898.5 1295.8,1887.4 1309.9,1885.2 1324.1,1920.1 1338.2,1971.3 1352.3,1916.7 1366.5,1969.6 1380.6,1945.7 1394.8,1921.0 1408.9,1817.7 1423.0,1896.2 1437.2,1950.0 1451.3,1906.5 1465.4,1931.2 1479.6,1981.6 1493.7,1925.3 1507.8,1880.0 1522.0,1844.2 1536.1,1899.7 1550.3,1855.3 1564.4,1770.0 1578.5,1942.3 1592.7,1928.1 1606.8,1871.0 1620.9,1804.6 1635.1,1804.6 1649.2,1880.4 1663.4,1829.5 1677.5,1862.7 1691.6,1844.0 1705.8,1874.1 1719.9,1839.9 1734.0,1761.4 1748.2,1845.1 1762.3,1778.6 1776.4,1802.5 1790.6,1771.4 1804.7,1741.3 1818.9,1721.5 1833.0,1816.0 1847.1,1824.3 1861.3,1748.5 1875.4,1804.6" fill="none" stroke="#ffa500" stroke-width="4.17" stroke-opacity="0.7" stroke-linejoin="round" stroke-linecap="butt" stroke-dasharray="15.4,6.7"/>
<g fill="#ffa500" fill-opacity="0.7"><circle cx="179.0" cy="2132.2" r="8.1"/><circle cx="193.1" cy="2140.4" r="8.1"/><circle cx="207.2" cy="2156.1" r="8.1"/><circle cx="221.4" cy="2211.6" r="8.1"/><circle cx="235.5" cy="2238.9" r="8.1"/><circle cx="249.7" cy="2053.2" r="8.1"/><circle cx="263.8" cy="2109.7" r="8.1"/><circle cx="277.9" cy="2143.3" r="8.1"/><circle cx="292.1" cy="2136.5" r="8.1"/><circle cx="306.2" cy="2111.7" r="8.1"/><circle cx="320.3" cy="2099.8" r="8.1"/><circle cx="334.5" cy="2141.6" r="8.1"/><circle cx="348.6" cy="2087.0" r="8.1"/><circle cx="362.7" cy="2098.9" r="8.1"/><circle cx="376.9" cy="2061.4" r="8.1"/><circle cx="391.0" cy="2034.4" r="8.1"/><circle cx="405.2" cy="2153.5" r="8.1"/><circle cx="419.3" cy="2232.4" r="8.1"/><circle cx="433.4" cy="2151.8" r="8.1"/><circle cx="447.6" cy="2052.0" r="8.1"/><circle cx="461.7" cy="2131.4" r="8.1"/><circle cx="475.8" cy="2101.5" r="8.1"/><circle cx="490.0" cy="2111.7" r="8.1"/><circle cx="504.1" cy="2139.0" r="8.1"/><circle cx="518.3" cy="2083.2" r="8.1"/><circle cx="532.4" cy="2116.0" r="8.1"/><circle cx="546.5" cy="2056.6" r="8.1"/><circle cx="560.7" cy="2110.0" r="8.1"/><circle cx="574.8" cy="2089.6" r="8.1"/><circle cx="588.9" cy="2147.6" r="8.1"/><circle cx="603.1" cy="2091.3" r="8.1"/><circle cx="617.2" cy="2053.2" r="8.1"/><circle cx="631.4" cy="2137.3" r="8.1"/><circle cx="645.5" cy="2146.7" r="8.1"/><circle cx="659.6" cy="2156.6" r="8.1"/><circle cx="673.8" cy="2126.2" r="8.1"/><circle cx="687.9" cy="2073.0" r="8.1"/><circle cx="702.0" cy="2073.0" r="8.1"/><circle cx="716.2" cy="2115.2" r="8.1"/><circle cx="730.3" cy="2084.4" r="8.1"/><circle cx="744.4" cy="2053.6" r="8.1"/><circle cx="758.6" cy="2036.2" r="8.1"/><circle cx="772.7" cy="2087.7" r="8.1"/><circle cx="786.9" cy="2156.0" r="8.1"/><circle cx="801.0" cy="2080.9" r="8.1"/><circle cx="815.1" cy="2090.3" r="8.1"/><circle cx="829.3" cy="2091.1" r="8.1"/><circle cx="843.4" cy="2069.8" r="8.1"/><circle cx="857.5" cy="2107.3" r="8.1"/><circle cx="871.7" cy="2124.4" r="8.1"/><circle cx="885.8" cy="2104.8" r="8.1"/><circle cx="900.0" cy="2039.9" r="8.1"/><circle cx="914.1" cy="2025.4" r="8.1"/><circle cx="928.2" cy="2057.8" r="8.1"/><circle cx="942.4" cy="2081.7" r="8.1"/><circle cx="956.5" cy="2097.1" r="8.1"/><circle cx="970.6" cy="2127.0" r="8.1"/><circle cx="984.8" cy="2003.8" r="8.1"/><circle cx="998.9" cy="1957.2" r="8.1"/><circle cx="1013.1" cy="2019.5" r="8.1"/><circle cx="1027.2" cy="2047.8" r="8.1"/><circle cx="1041.3" cy="2031.6" r="8.1"/><circle cx="1055.5" cy="2070.9" r="8.1"/><circle cx="1069.6" cy="2042.7" r="8.1"/><circle cx="1083.7" cy="2086.2" r="8.1"/><circle cx="1097.9" cy="2023.9" r="8.1"/><circle cx="1112.0" cy="1982.1" r="8.1"/><circle cx="1126.1" cy="2045.3" r="8.1"/><circle cx="1140.3" cy="2065.7" r="8.1"/><circle cx="1154.4" cy="1920.7" r="8.1"/><circle cx="1168.6" cy="1951.4" r="8.1"/><circle cx="1182.7" cy="2033.3" r="8.1"/><circle cx="1196.8" cy="1931.8" r="8.1"/><circle cx="1211.0" cy="1891.7" r="8.1"/><circle cx="1225.1" cy="2003.4" r="8.1"/><circle cx="1239.2" cy="1998.3" r="8.1"/><circle cx="1253.4" cy="1963.3" r="8.1"/><circle cx="1267.5" cy="1892.5" r="8.1"/><circle cx="1281.7" cy="1898.5" r="8.1"/><circle cx="1295.8" cy="1887.4" r="8.1"/><circle cx="1309.9" cy="1885.2" r="8.1"/><circle cx="1324.1" cy="1920.1" r="8.1"/><circle cx="1338.2" cy="1971.3" r="8.1"/><circle cx="1352.3" cy="1916.7" r="8.1"/><circle cx="1366.5" cy="1969.6" r="8.1"/><circle cx="1380.6" cy="1945.7" r="8.1"/><circle cx="1394.8" cy="1921.0" r="8.1"/><circle cx="1408.9" cy="1817.7" r="8.1"/><circle cx="1423.0" cy="1896.2" r="8.1"/><circle cx="1437.2" cy="1950.0" r="8.1"/><circle cx="1451.3" cy="1906.5" r="8.1"/><circle cx="1465.4" cy="1931.2" r="8.1"/><circle cx="1479.6" cy="1981.6" r="8.1"/><circle cx="1493.7" cy="1925.3" r="8.1"/><circle cx="1507.8" cy="1880.0" r="8.1"/><circle cx="1522.0" cy="1844.2" r="8.1"/><circle cx="1536.1" cy="1899.7" r="8.1"/><circle cx="1550.3" cy="1855.3" r="8.1"/><circle cx="1564.4" cy="1770.0" r="8.1"/><circle cx="1578.5" cy="1942.3" r="8.1"/><circle cx="1592.7" cy="1928.1" r="8.1"/><circle cx="1606.8" cy="1871.0" r="8.1"/><circle cx="1620.9" cy="1804.6" r="8.1"/><circle cx="1635.1" cy="1804.6" r="8.1"/><circle cx="1649.2" cy="1880.4" r="8.1"/><circle cx="1663.4" cy="1829.5" r="8.1"/><circle cx="1677.5" cy="1862.7" r="8.1"/><circle cx="1691.6" cy="1844.0" r="8.1"/><circle cx="1705.8" cy="1874.1" r="8.1"/><circle cx="1719.9" cy="1839.9" r="8.1"/><circle cx="1734.0" cy="1761.4" r="8.1"/><circle cx="1748.2" cy="1845.1" r="8.1"/><circle cx="1762.3" cy="1778.6" r="8.1"/><circle cx="1776.4" cy="1802.5" r="8.1"/><circle cx="1790.6" cy="1771.4" r="8.1"/><circle cx="1804.7" cy="1741.3" r="8.1"/><circle cx="1818.9" cy="1721.5" r="8.1"/><circle cx="1833.0" cy="1816.0" r="8.1"/><circle cx="1847.1" cy="1824.3" r="8.1"/><circle cx="1861.3" cy="1748.5" r="8.1"/><circle cx="1875.4" cy="1804.6" r="8.1"/></g>
<polyline points="207.2,2175.8 221.4,2160.0 235.5,2153.9 249.7,2151.3 263.8,2136.3 277.9,2110.9 292.1,2120.2 306.2,2126.6 320.3,2115.3 334.5,2107.8 348.6,2097.7 362.7,2084.7 376.9,2087.1 391.0,2116.1 405.2,2126.7 419.3,2124.8 433.4,2144.2 447.6,2133.8 461.7,2109.7 475.8,2107.1 490.0,2113.4 504.1,2110.3 518.3,2101.3 532.4,2101.0 546.5,2091.1 560.7,2104.0 574.8,2099.0 588.9,2098.3 603.1,2103.8 617.2,2115.2 631.4,2117.0 645.5,2124.0 659.6,2128.0 673.8,2115.1 687.9,2108.8 702.0,2094.4 716.2,2079.8 730.3,2072.5 744.4,2075.4 758.6,2083.6 772.7,2082.9 786.9,2090.2 801.0,2101.2 815.1,2097.6 829.3,2087.9 843.4,2096.6 857.5,2099.5 871.7,2089.2 885.8,2080.4 900.0,2070.5 914.1,2061.9 928.2,2060.4 942.4,2077.8 956.5,2073.5 970.6,2053.3 984.8,2040.9 998.9,2031.0 1013.1,2012.0 1027.2,2025.4 1041.3,2042.5 1055.5,2055.8 1069.6,2051.1 1083.7,2041.2 1097.9,2036.0 1112.0,2040.6 1126.1,2007.5 1140.3,1993.0 1154.4,2003.3 1168.6,1980.6 1182.7,1945.8 1196.8,1962.3 1211.0,1971.7 1225.1,1957.7 1239.2,1949.9 1253.4,1951.2 1267.5,1928.0 1281.7,1905.4 1295.8,1896.7 1309.9,1912.5 1324.1,1916.2 1338.2,1932.6 1352.3,1944.7 1366.5,1944.9 1380.6,1914.2 1394.8,1910.1 1408.9,1906.1 1423.0,1898.3 1437.2,1900.3 1451.3,1933.1 1465.4,1938.9 1479.6,1924.9 1493.7,1912.5 1507.8,1906.1 1522.0,1880.9 1536.1,1849.8 1550.3,1862.3 1564.4,1879.1 1578.5,1873.3 1592.7,1863.2 1606.8,1870.1 1620.9,1857.7 1635.1,1838.0 1649.2,1836.4 1663.4,1844.2 1677.5,1858.2 1691.6,1850.1 1705.8,1836.4 1719.9,1832.9 1734.0,1819.8 1748.2,1805.5 1762.3,1791.8 1776.4,1787.8 1790.6,1763.1 1804.7,1770.5 1818.9,1774.9 1833.0,1770.3 1847.1,1783.0" fill="none" stroke="#ffa500" stroke-width="8.4" stroke-opacity="1" stroke-linejoin="round" stroke-linecap="square"/>
</g>
<rect x="171.9" y="1680.4" width="1767.5" height="577.0" fill="none" stroke="#000" stroke-width="3.33"/>
<line x1="171.9" y1="2257.4" x2="171.9" y2="2272.0" stroke="#000" stroke-width="3.33"/>
<text class="tk" x="171.9" y="2317.9" text-anchor="middle">1900</text>
<line x1="454.6" y1="2257.4" x2="454.6" y2="2272.0" stroke="#000" stroke-width="3.33"/>
<text class="tk" x="454.6" y="2317.9" text-anchor="middle">1920</text>
<line x1="737.4" y1="2257.4" x2="737.4" y2="2272.0" stroke="#000" stroke-width="3.33"/>
<text class="tk" x="737.4" y="2317.9" text-anchor="middle">1940</text>
<line x1="1020.1" y1="2257.4" x2="1020.1" y2="2272.0" stroke="#000" stroke-width="3.33"/>
<text class="tk" x="1020.1" y="2317.9" text-anchor="middle">1960</text>
<line x1="1302.9" y1="2257.4" x2="1302.9" y2="2272.0" stroke="#000" stroke-width="3.33"/>
<text class="tk" x="1302.9" y="2317.9" text-anchor="middle">1980</text>
<line x1="1585.6" y1="2257.4" x2="1585.6" y2="2272.0" stroke="#000" stroke-width="3.33"/>
<text class="tk" x="1585.6" y="2317.9" text-anchor="middle">2000</text>
<line x1="1868.3" y1="2257.4" x2="1868.3" y2="2272.0" stroke="#000" stroke-width="3.33"/>
<text class="tk" x="1868.3" y="2317.9" text-anchor="middle">2020</text>
<line x1="157.3" y1="2142.8" x2="171.9" y2="2142.8" stroke="#000" stroke-width="3.33"/>
<text class="tk" x="142.7" y="2158.7" text-anchor="end">0</text>
<line x1="157.3" y1="2000.4" x2="171.9" y2="2000.4" stroke="#000" stroke-width="3.33"/>
<text class="tk" x="142.7" y="2016.3" text-anchor="end">2</text>
<line x1="157.3" y1="1858.0" x2="171.9" y2="1858.0" stroke="#000" stroke-width="3.33"/>
<text class="tk" x="142.7" y="1873.9" text-anchor="end">4</text>
<line x1="157.3" y1="1715.6" x2="171.9" y2="1715.6" stroke="#000" stroke-width="3.33"/>
<text class="tk" x="142.7" y="1731.5" text-anchor="end">6</text>
<text class="tk nk" transform="translate(87,1971.1) rotate(-90)" text-anchor="middle">AGR (GtC yr<tspan dy="-15" font-size="29.2px">−1</tspan><tspan dy="15">)</tspan></text>
<text class="ti" x="171.7" y="1654.7">(b)</text>
<rect x="189.3" y="1697.8" width="475.6" height="214.4" rx="7" ry="7" fill="#fff" fill-opacity="0.8" stroke="#ccc" stroke-opacity="0.8" stroke-width="4.17"/>
<line x1="202" y1="1724.8" x2="273" y2="1724.8" stroke="#696969" stroke-opacity="0.6" stroke-width="4.2" stroke-dasharray="15.4,6.7"/>
<circle cx="238" cy="1724.8" r="8.3" fill="#696969" fill-opacity="0.6"/>
<text class="lb" x="301.2" y="1737.3">obs</text>
<line x1="199.5" y1="1776.0" x2="277" y2="1776.0" stroke="#696969" stroke-width="8.4"/>
<text class="lb" x="301.2" y="1788.5">5-year mean, obs</text>
<line x1="202" y1="1827.2" x2="273" y2="1827.2" stroke="#ffa500" stroke-opacity="0.7" stroke-width="4.2" stroke-dasharray="15.4,6.7"/>
<circle cx="238" cy="1827.2" r="8.3" fill="#ffa500" fill-opacity="0.7"/>
<text class="lb" x="301.2" y="1839.7">model</text>
<line x1="199.5" y1="1878.4" x2="277" y2="1878.4" stroke="#ffa500" stroke-width="8.4"/>
<text class="lb" x="301.2" y="1890.9">5-year mean, model</text>
</svg></body></html>
